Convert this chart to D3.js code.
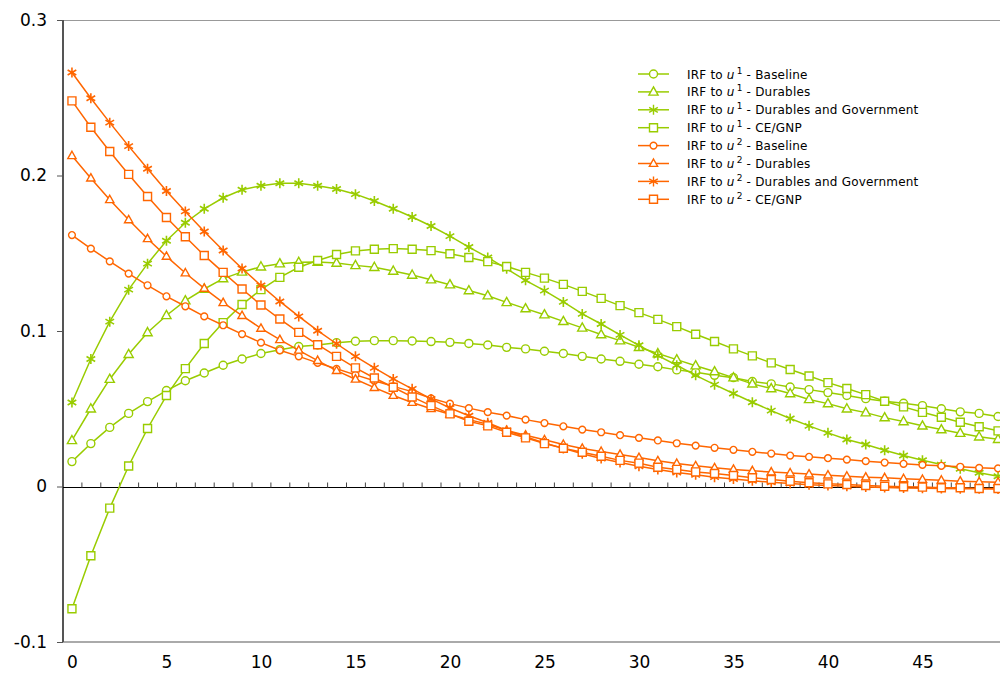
<!DOCTYPE html>
<html>
<head>
<meta charset="utf-8">
<script src="https://cdn.jsdelivr.net/npm/d3@7"></script>
<style>
	body { margin: 0; background: #fff; }
	text { font-family: 'DejaVu Sans', sans-serif; }
</style>
</head>
<body>
<div class="canvas"></div>
<script>
// horizons 0..49
const steps = d3.range(50);

const u1Baseline = [0.016, 0.0276, 0.038, 0.047, 0.0546, 0.0617, 0.068, 0.073, 0.078, 0.082,
	0.0855, 0.088, 0.090, 0.091, 0.0925, 0.0934, 0.0938, 0.0938, 0.0936, 0.0932,
	0.0927, 0.092, 0.091, 0.0895, 0.0885, 0.087, 0.0855, 0.0837, 0.082, 0.0805,
	0.0786, 0.077, 0.075, 0.0734, 0.0715, 0.070, 0.0675, 0.066, 0.064, 0.0623,
	0.0604, 0.0585, 0.0565, 0.0548, 0.0535, 0.052, 0.050, 0.048, 0.047, 0.045];
const u1Durables = [0.0296, 0.050, 0.069, 0.085, 0.099, 0.110, 0.1195, 0.127, 0.1337, 0.138,
	0.1413, 0.1433, 0.1442, 0.1443, 0.1437, 0.1422, 0.141, 0.1386, 0.136, 0.133,
	0.1298, 0.126, 0.1227, 0.1184, 0.1144, 0.1105, 0.1062, 0.102, 0.0977, 0.0938,
	0.0895, 0.0855, 0.0816, 0.0777, 0.0739, 0.070, 0.066, 0.063, 0.0598, 0.056,
	0.0533, 0.050, 0.0475, 0.0443, 0.0418, 0.039, 0.0366, 0.0343, 0.032, 0.0304];
const u1DurGov = [0.054, 0.082, 0.106, 0.1266, 0.1433, 0.158, 0.1696, 0.1786, 0.1857, 0.1908,
	0.1934, 0.195, 0.195, 0.1934, 0.1913, 0.188, 0.1836, 0.1786, 0.1733, 0.1675,
	0.161, 0.154, 0.1473, 0.140, 0.1326, 0.126, 0.1187, 0.111, 0.1045, 0.0975,
	0.0908, 0.0842, 0.078, 0.0715, 0.0655, 0.0598, 0.0542, 0.0488, 0.0437, 0.039,
	0.0345, 0.0302, 0.027, 0.0233, 0.0199, 0.0169, 0.0141, 0.0114, 0.0088, 0.0066];
const u1CeGnp = [-0.0786, -0.0445, -0.0139, 0.0132, 0.0373, 0.0585, 0.0758, 0.092, 0.1054, 0.117,
	0.1266, 0.1345, 0.141, 0.1453, 0.1492, 0.1515, 0.1526, 0.153, 0.1526, 0.1517,
	0.1497, 0.1473, 0.1446, 0.1415, 0.1377, 0.134, 0.130, 0.1255, 0.121, 0.1163,
	0.1118, 0.1075, 0.1028, 0.0979, 0.0932, 0.0885, 0.084, 0.0795, 0.0752, 0.0711,
	0.0668, 0.063, 0.0591, 0.0548, 0.0512, 0.0477, 0.0445, 0.0413, 0.0384, 0.0358];
const u2Baseline = [0.1617, 0.153, 0.1448, 0.1369, 0.1294, 0.1223, 0.1159, 0.1094, 0.1037, 0.098,
	0.0925, 0.0876, 0.0837, 0.0795, 0.0757, 0.0718, 0.068, 0.0644, 0.061, 0.0567,
	0.0533, 0.0504, 0.0478, 0.0456, 0.043, 0.0408, 0.0387, 0.0366, 0.0349, 0.033,
	0.0313, 0.0296, 0.0278, 0.0263, 0.0249, 0.0236, 0.0223, 0.0212, 0.0199, 0.0191,
	0.0182, 0.0173, 0.0163, 0.0154, 0.0146, 0.0139, 0.0133, 0.0127, 0.012, 0.0116];
const u2Durables = [0.2127, 0.1983, 0.1844, 0.1715, 0.1593, 0.148, 0.1373, 0.1274, 0.1182, 0.1099,
	0.1017, 0.0944, 0.0876, 0.081, 0.0745, 0.069, 0.0636, 0.0585, 0.054, 0.050,
	0.0465, 0.043, 0.040, 0.036, 0.033, 0.030, 0.027, 0.0245, 0.0225, 0.0206,
	0.0186, 0.0165, 0.0148, 0.0133, 0.012, 0.011, 0.0101, 0.0093, 0.0087, 0.008,
	0.0073, 0.0066, 0.006, 0.0056, 0.005, 0.0045, 0.004, 0.0034, 0.003, 0.0028];
const u2DurGov = [0.2662, 0.2497, 0.234, 0.2189, 0.2043, 0.190, 0.1769, 0.164, 0.1518, 0.1402,
	0.1293, 0.119, 0.1094, 0.1002, 0.0918, 0.0837, 0.0763, 0.0692, 0.0628, 0.0563,
	0.0505, 0.0455, 0.041, 0.036, 0.032, 0.028, 0.0245, 0.021, 0.018, 0.0155,
	0.013, 0.011, 0.009, 0.0075, 0.006, 0.0048, 0.0037, 0.0027, 0.0019, 0.0012,
	0.0006, 0.0001, -0.0003, -0.0006, -0.0009, -0.0011, -0.0013, -0.0014, -0.0015, -0.0016];
const u2CeGnp = [0.248, 0.231, 0.2154, 0.2007, 0.1865, 0.173, 0.1606, 0.1486, 0.1377, 0.127,
	0.1167, 0.1077, 0.0991, 0.0912, 0.0837, 0.0763, 0.0698, 0.0638, 0.0576, 0.052,
	0.0467, 0.042, 0.039, 0.0349, 0.0313, 0.0276, 0.0246, 0.022, 0.0195, 0.0168,
	0.015, 0.0124, 0.011, 0.0094, 0.0084, 0.0071, 0.0056, 0.0045, 0.0034, 0.0024,
	0.0017, 0.0013, 0.0006, 0.0002, -0.0002, -0.0004, -0.0008, -0.0008, -0.0013, -0.0013];

const xTicks = [0, 5, 10, 15, 20, 25, 30, 35, 40, 45];
const yTicks = [-0.1, 0, 0.1, 0.2, 0.3];
const yTickLabels = ['-0.1', '0', '0.1', '0.2', '0.3'];

const green = '#99cc00';
const orange = '#ff6600';

// series list (legend order)
const series = [
	{ shock: '1', name: 'Baseline', values: u1Baseline, colour: green, shape: 'circle' },
	{ shock: '1', name: 'Durables', values: u1Durables, colour: green, shape: 'triangle' },
	{ shock: '1', name: 'Durables and Government', values: u1DurGov, colour: green, shape: 'star' },
	{ shock: '1', name: 'CE/GNP', values: u1CeGnp, colour: green, shape: 'square' },
	{ shock: '2', name: 'Baseline', values: u2Baseline, colour: orange, shape: 'circle' },
	{ shock: '2', name: 'Durables', values: u2Durables, colour: orange, shape: 'triangle' },
	{ shock: '2', name: 'Durables and Government', values: u2DurGov, colour: orange, shape: 'star' },
	{ shock: '2', name: 'CE/GNP', values: u2CeGnp, colour: orange, shape: 'square' }
];

const svg = d3
	.select('.canvas')
	.append('svg')
	.attr('width', 1000)
	.attr('height', 680);

const x = d3.scaleLinear().domain([-0.5, 49.5]).range([62.5, 1007.5]);
const y = d3.scaleLinear().domain([-0.1, 0.3]).range([642, 20]);

// frame
svg.append('line')
	.attr('x1', 63).attr('x2', 1000)
	.attr('y1', y(0.3) + 0.5).attr('y2', y(0.3) + 0.5)
	.attr('stroke', '#999').attr('stroke-width', 1);
svg.append('line')
	.attr('x1', 63).attr('x2', 1000)
	.attr('y1', y(-0.1)).attr('y2', y(-0.1))
	.attr('stroke', '#aaa').attr('stroke-width', 2);

// y axis
const yAxis = d3.axisLeft(y)
	.tickValues(yTicks)
	.tickSize(6)
	.tickPadding(10)
	.tickFormat((d, i) => yTickLabels[i]);
const yAxisGroup = svg.append('g')
	.attr('transform', 'translate(63,0)')
	.call(yAxis);
yAxisGroup.select('.domain').attr('stroke', '#555').attr('stroke-width', 2).attr('d', `M0,${y(0.3)}V${y(-0.1)}`);
yAxisGroup.selectAll('.tick line').attr('stroke', '#555');
yAxisGroup.selectAll('text')
	.attr('font-size', 17)
	.attr('font-family', 'DejaVu Sans')
	.attr('fill', '#000');

// x labels along the bottom
const xAxis = d3.axisBottom(x)
	.tickValues(xTicks)
	.tickSize(0)
	.tickPadding(14);
const xAxisGroup = svg.append('g')
	.attr('transform', `translate(0, ${y(-0.1)})`)
	.call(xAxis);
xAxisGroup.select('.domain').remove();
xAxisGroup.selectAll('text')
	.attr('font-size', 17)
	.attr('font-family', 'DejaVu Sans')
	.attr('fill', '#000');

// zero line with small ticks between periods
const zeroAxis = d3.axisTop(x)
	.tickValues(d3.range(0.5, 49.6, 1))
	.tickSize(5)
	.tickFormat('');
const zeroGroup = svg.append('g')
	.attr('transform', `translate(0, ${Math.round(y(0)) + 0.5})`)
	.call(zeroAxis);
zeroGroup.select('.domain').attr('d', 'M63,0H1000').attr('stroke', '#000');
zeroGroup.selectAll('.tick line').attr('stroke', '#444');

// marker paths
const marker = (shape, colour) => {
	const s = colour === orange ? 0.9 : 1;
	if (shape === 'circle') {
		const r = (colour === orange ? 3.4 : 4);
		return `M${r},0A${r},${r} 0 1,1 ${-r},0A${r},${r} 0 1,1 ${r},0Z`;
	}
	if (shape === 'square') return 'M-4,-4H4V4H-4Z';
	if (shape === 'triangle') return `M0,${-5 * s}L${4.6 * s},${3.2 * s}L${-4.6 * s},${3.2 * s}Z`;
	const a = 5, b = a / 2, c = a * Math.sqrt(3) / 2;
	return `M0,${-a}V${a}M${-c},${-b}L${c},${b}M${-c},${b}L${c},${-b}`;
};

const line = d3.line()
	.x((d, i) => x(steps[i]))
	.y(d => y(d));

const plot = svg.append('g');

series.forEach(s => {
	const g = plot.append('g');
	g.append('path')
		.attr('d', line(s.values))
		.attr('fill', 'none')
		.attr('stroke', s.colour)
		.attr('stroke-width', 1.5);
	g.selectAll('path.mark')
		.data(s.values)
		.enter()
		.append('path')
		.attr('class', 'mark')
		.attr('transform', (d, i) => `translate(${x(steps[i])},${y(d)})`)
		.attr('d', marker(s.shape, s.colour))
		.attr('fill', s.shape === 'star' ? 'none' : '#fff')
		.attr('stroke', s.colour)
		.attr('stroke-width', s.shape === 'star' ? 1.6 : 1.4);
});

// legend
const legend = svg.append('g').attr('transform', 'translate(638, 74)');
const rows = legend.selectAll('g')
	.data(series)
	.enter()
	.append('g')
	.attr('transform', (d, i) => `translate(0, ${i * 17.9})`);
rows.append('line')
	.attr('x1', 0).attr('x2', 31)
	.attr('stroke', d => d.colour)
	.attr('stroke-width', 1.5);
rows.append('path')
	.attr('transform', 'translate(15.5,0)')
	.attr('d', d => marker(d.shape, d.colour))
	.attr('fill', d => d.shape === 'star' ? 'none' : '#fff')
	.attr('stroke', d => d.colour)
	.attr('stroke-width', 1.4);
const label = rows.append('text')
	.attr('x', 49)
	.attr('y', 4.5)
	.attr('font-size', 12)
	.attr('letter-spacing', 0.2)
	.attr('fill', '#000');
label.append('tspan').text('IRF to ');
label.append('tspan').attr('font-style', 'italic').text('u');
label.append('tspan').attr('dy', -5).attr('font-size', 9).text(d => '\u2009' + d.shock);
label.append('tspan').attr('dy', 5).text(d => ' - ' + d.name);
</script>
</body>
</html>
